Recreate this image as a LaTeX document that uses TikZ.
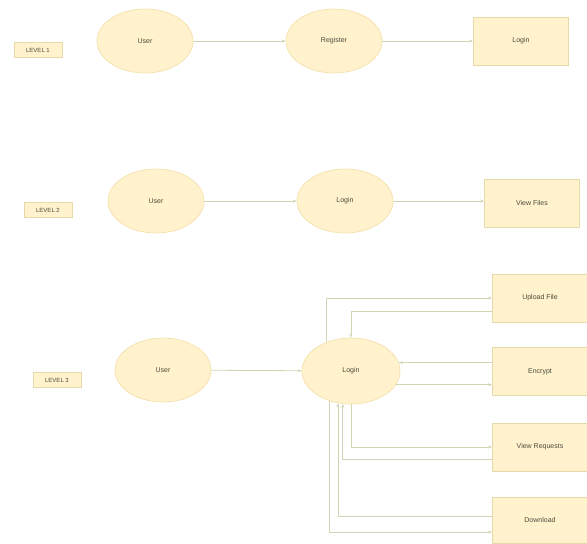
\documentclass[tikz,border=0pt]{standalone}
\usepackage{fontspec}
\setmainfont{Liberation Sans}
\usetikzlibrary{arrows.meta,shapes.geometric}
\definecolor{fillc}{RGB}{255,242,204}
\definecolor{ellc}{RGB}{244,224,172}
\definecolor{rectc}{RGB}{232,218,168}
\definecolor{linec}{RGB}{210,212,180}
\definecolor{txtc}{RGB}{75,75,60}
\tikzset{
  every node/.style={font=\fontsize{7}{8.5}\selectfont, text=txtc},
  ell/.style={ellipse, draw=ellc, fill=fillc, line width=0.7pt, minimum width=96pt, minimum height=64pt, inner sep=0pt},
  box/.style={rectangle, draw=rectc, fill=fillc, line width=0.7pt, minimum width=95pt, minimum height=48pt, inner sep=0pt},
  lvl/.style={rectangle, draw=rectc, fill=fillc, line width=0.6pt, minimum width=48pt, minimum height=15pt, inner sep=1pt, font=\fontsize{6}{7}\selectfont},
  conn/.style={draw=linec, line width=0.8pt, -{Stealth[length=4pt,width=3pt]}}
}
\begin{document}
\begin{tikzpicture}[x=1pt,y=-1pt]
\useasboundingbox (0,0) rectangle (587,544);
% Level 1
\node[lvl] (lvl1) at (38,50) {LEVEL 1};
\node[ell] (user1) at (145,41) {User};
\node[ell] (reg1) at (334,41) {Register};
\node[box] (login1) at (521,41) {Login};
\draw[conn] (user1) -- (reg1);
\draw[conn] (reg1) -- (login1);
% Level 2
\node[lvl] (lvl2) at (48,210) {LEVEL 2};
\node[ell] (user2) at (156,201) {User};
\node[ell] (login2) at (345,201) {Login};
\node[box] (view2) at (532,203) {View Files};
\draw[conn] (user2) -- (login2);
\draw[conn] (login2) -- (login2 -| view2.west);
% Level 3
\node[lvl] (lvl3) at (57,380) {LEVEL 3};
\node[ell] (user3) at (163,370) {User};
\node[ell, minimum width=98pt, minimum height=66pt] (login3) at (351,371) {Login};
\node[box] (upload) at (540,298) {Upload File};
\node[box] (encrypt) at (540,371.5) {Encrypt};
\node[box] (viewreq) at (540,447) {View Requests};
\node[box, minimum height=46pt] (download) at (540,520) {Download};
\draw[conn] (user3) -- (login3);
% Login <-> Upload File
\draw[conn] (login3.130) |- (upload.west);
\draw[conn] ([yshift=-13pt]upload.west) -| (login3.north);
% Login <-> Encrypt
\draw[conn] (encrypt.west |- login3.10) -- (login3.10);
\draw[conn] (login3.-17.5) -- (login3.-17.5 -| encrypt.west);
% Login <-> View Requests
\draw[conn] (login3.south) |- (viewreq.west);
\draw[conn] ([yshift=-12pt]viewreq.west) -| (login3.-104);
% Login <-> Download
\draw[conn] ([yshift=4pt]download.west) -| (login3.-112);
\draw[conn] (login3.-125) |- ([yshift=-12pt]download.west);
\end{tikzpicture}
\end{document}
